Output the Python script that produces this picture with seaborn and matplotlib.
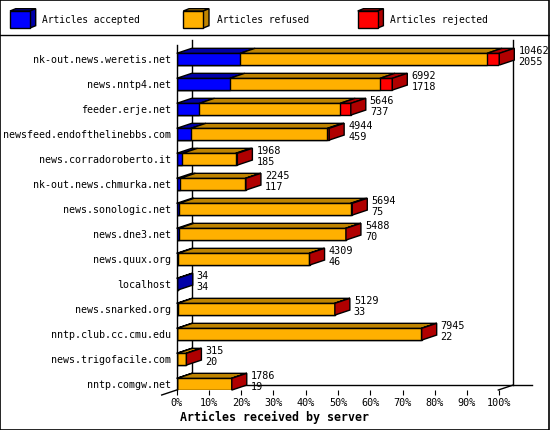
import matplotlib
matplotlib.use("Agg")
import matplotlib.pyplot as plt
from matplotlib.patches import Polygon, Rectangle
from matplotlib.lines import Line2D
import seaborn as sns
import numpy as np

servers = ["nk-out.news.weretis.net", "news.nntp4.net", "feeder.erje.net",
           "newsfeed.endofthelinebbs.com", "news.corradoroberto.it",
           "nk-out.news.chmurka.net", "news.sonologic.net", "news.dne3.net",
           "news.quux.org", "localhost", "news.snarked.org",
           "nntp.club.cc.cmu.edu", "news.trigofacile.com", "nntp.comgw.net"]
totals = [10462, 6992, 5646, 4944, 1968, 2245, 5694, 5488, 4309, 34, 5129, 7945, 315, 1786]
accepted = [2055, 1718, 737, 459, 185, 117, 75, 70, 46, 34, 33, 22, 20, 19]
refused = [8008, 4874, 4563, 4430, 1728, 2113, 5564, 5408, 4251, 0, 5090, 7915, 290, 1760]
rejected = [399, 400, 346, 55, 55, 15, 55, 10, 12, 0, 6, 8, 5, 7]
xticks = [0, 10, 20, 30, 40, 50, 60, 70, 80, 90, 100]
xticklabels = ["0%", "10%", "20%", "30%", "40%", "50%", "60%", "70%", "80%", "90%", "100%"]
series_names = ["Articles accepted", "Articles refused", "Articles rejected"]

face = ["#0000ff", "#ffb000", "#ff0000"]
dark = ["#0000a8", "#bf8400", "#b00000"]

W, H = 550, 430
MONO = "DejaVu Sans Mono"
fig = plt.figure(figsize=(W / 100, H / 100), dpi=100)
fig.patch.set_facecolor("white")

def fx(x):
    return x / W

def fy(y):
    return 1 - y / H

# axes geometry in pixels
ax_l, ax_r, ax_t, ax_b = 176.7, 499.3, 45.0, 390.0
ax = fig.add_axes([fx(ax_l), fy(ax_b), (ax_r - ax_l) / W, (ax_b - ax_t) / H])
ax.set_facecolor("none")
ax.set_zorder(2)

maxtot = max(totals)
acc_p = np.array(accepted) / maxtot * 100
ref_p = np.array(refused) / maxtot * 100
rej_p = np.array(rejected) / maxtot * 100
cum1 = acc_p
cum2 = acc_p + ref_p
cum3 = acc_p + ref_p + rej_p

bw = 0.47
for vals, col in [(cum3, face[2]), (cum2, face[1]), (cum1, face[0])]:
    sns.barplot(x=vals, y=servers, orient="h", color=col, width=bw,
                edgecolor="black", linewidth=1, errorbar=None, saturation=1, ax=ax)

slot_px = 25.0
y_top_i = (ax_t - 59.2) / slot_px
y_bot_i = (ax_b - 59.2) / slot_px
ax.set_xlim(0, 100)
ax.set_ylim(y_bot_i, y_top_i)

dx = 15 / (ax_r - ax_l) * 100
dy = 5 / slot_px

for i in range(len(servers)):
    segs = [(0, cum1[i]), (cum1[i], cum2[i]), (cum2[i], cum3[i])]
    yt = i - bw / 2
    yb = i + bw / 2
    last = 0
    for k, (a, b) in enumerate(segs):
        if b - a <= 0:
            continue
        last = k
        ax.add_patch(Polygon([(a, yt), (b, yt), (b + dx, yt - dy), (a + dx, yt - dy)],
                             closed=True, facecolor=dark[k], edgecolor="black",
                             linewidth=1, clip_on=False, zorder=3))
    T = cum3[i]
    ax.add_patch(Polygon([(T, yt), (T + dx, yt - dy), (T + dx, yb - dy), (T, yb)],
                         closed=True, facecolor=dark[last], edgecolor="black",
                         linewidth=1, clip_on=False, zorder=3))
    ax.annotate(str(totals[i]), xy=(T, i), xytext=(19, 8.5), textcoords="offset pixels",
                ha="left", va="center", fontsize=7.3, family=MONO, annotation_clip=False)
    ax.annotate(str(accepted[i]), xy=(T, i), xytext=(19, -2.5), textcoords="offset pixels",
                ha="left", va="center", fontsize=7.3, family=MONO, annotation_clip=False)

for s in ["top", "right", "bottom"]:
    ax.spines[s].set_visible(False)
ax.spines["left"].set_linewidth(1)
ax.spines["left"].set_color("black")
ax.set_xticks(xticks)
ax.set_xticklabels(xticklabels, family=MONO, fontsize=7.3)
ax.tick_params(axis="x", direction="out", length=3.6, width=0.8, pad=2.5, colors="black")
ax.tick_params(axis="y", length=0, pad=3.8)
for lab in ax.get_yticklabels():
    lab.set_family(MONO)
    lab.set_fontsize(7.2)
ax.set_xlabel("")
ax.set_ylabel("")

def fline(x0, y0, x1, y1, lw=1):
    fig.add_artist(Line2D([fx(x0), fx(x1)], [fy(y0), fy(y1)], color="black",
                          linewidth=lw, transform=fig.transFigure, zorder=1))

# 3D frame lines (behind the axes content)
fline(191.7, 40, 191.7, 385)
fline(513.3, 40, 513.3, 385)
fline(191.7, 385, 531.7, 385)
fline(498.3, 390, 513.3, 385)
fline(161.7, 395, 176.7, 390)

# legend
leg_x = [10, 183.3, 357.7]
txt_x = [42.3, 216.7, 390]
for k in range(3):
    x0 = leg_x[k]
    x1 = x0 + 20
    y0, y1 = 11, 28
    ddx, ddy = 5.7, 2.3
    fig.add_artist(Polygon([(fx(x0), fy(y0)), (fx(x1), fy(y0)), (fx(x1 + ddx), fy(y0 - ddy)),
                            (fx(x0 + ddx), fy(y0 - ddy))], closed=True, facecolor=dark[k],
                           edgecolor="black", linewidth=1, transform=fig.transFigure))
    fig.add_artist(Polygon([(fx(x1), fy(y0)), (fx(x1 + ddx), fy(y0 - ddy)),
                            (fx(x1 + ddx), fy(y1 - ddy)), (fx(x1), fy(y1))], closed=True,
                           facecolor=dark[k], edgecolor="black", linewidth=1,
                           transform=fig.transFigure))
    fig.add_artist(Rectangle((fx(x0), fy(y1)), (x1 - x0) / W, (y1 - y0) / H,
                             facecolor=face[k], edgecolor="black", linewidth=1,
                             transform=fig.transFigure))
    fig.text(fx(txt_x[k]), fy(20), series_names[k], ha="left", va="center",
             fontsize=6.9, family=MONO)

fline(0, 35, 550, 35)
fig.text(fx(180), fy(417), "Articles received by server", ha="left", va="center",
         fontsize=8.4, family=MONO, fontweight="bold")
fig.add_artist(Rectangle((0.0005, 0.001), 0.998, 0.998, facecolor="none",
                         edgecolor="black", linewidth=1.2, transform=fig.transFigure))

fig.savefig("out.png", dpi=100)
